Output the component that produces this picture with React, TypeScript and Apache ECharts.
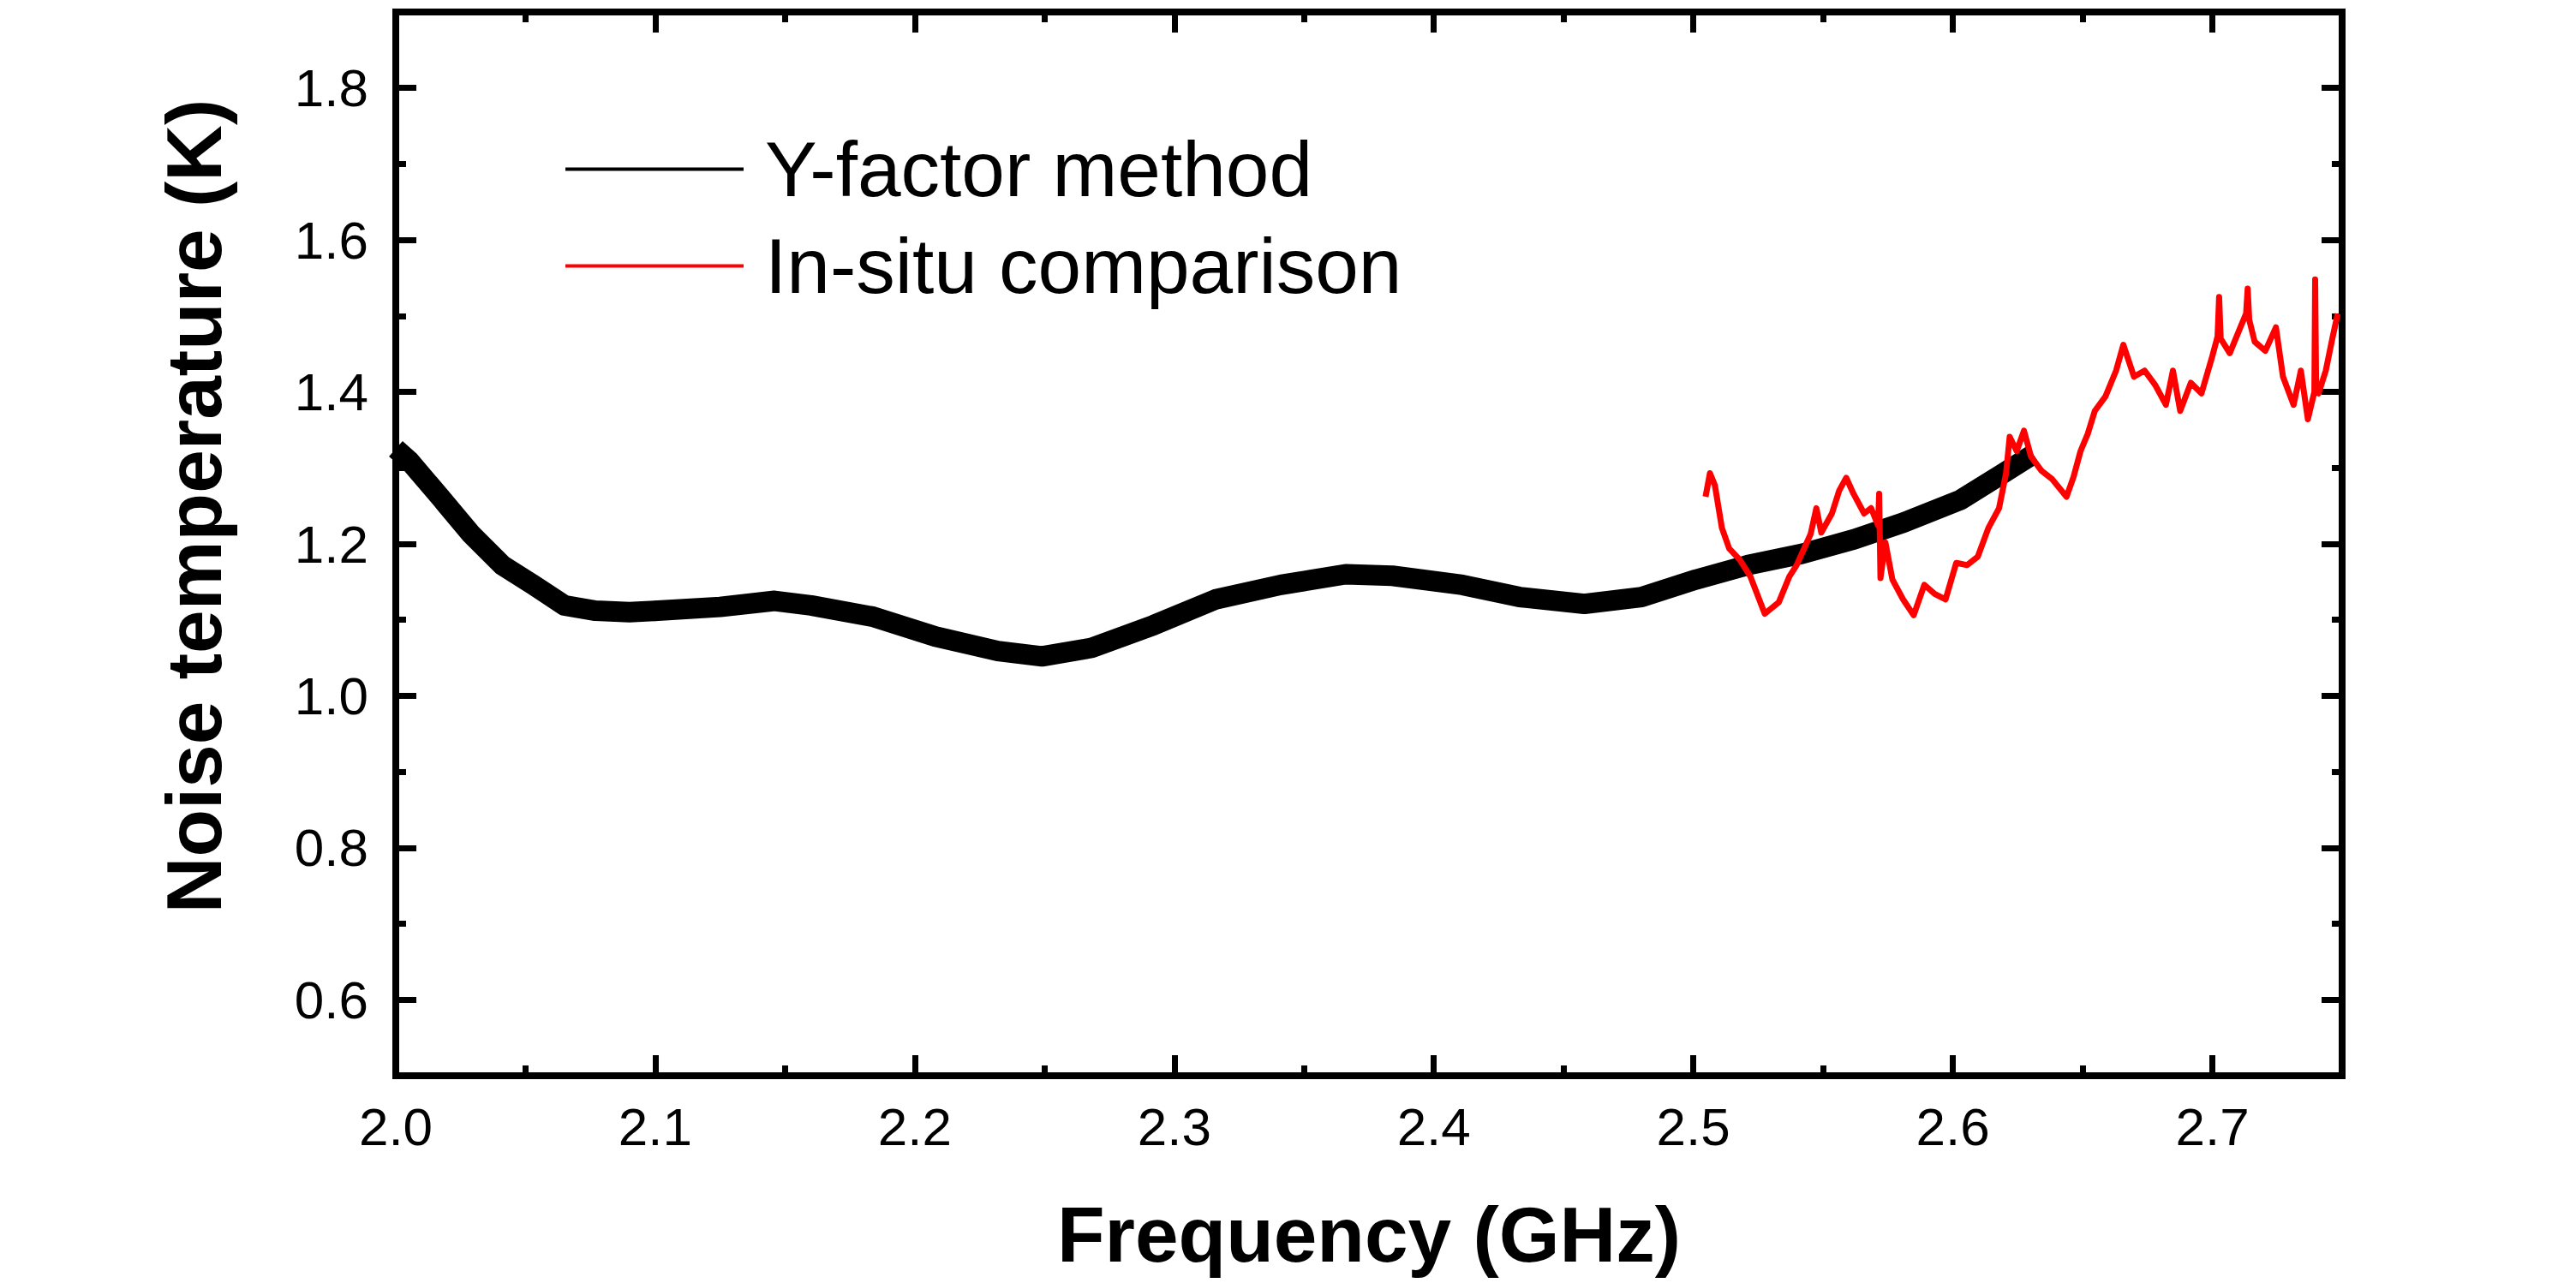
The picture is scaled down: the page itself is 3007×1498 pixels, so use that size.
import React, { useEffect, useRef } from "react";
import * as echarts from "echarts";

// ---- data ----
const seriesNames = ["Y-factor method", "In-situ comparison"];
const xTitle = "Frequency (GHz)";
const yTitle = "Noise temperature (K)";

const xMajorTicks = [2.0, 2.1, 2.2, 2.3, 2.4, 2.5, 2.6, 2.7];
const xMinorTicks = [2.05, 2.15, 2.25, 2.35, 2.45, 2.55, 2.65];
const yMajorTicks = [0.6, 0.8, 1.0, 1.2, 1.4, 1.6, 1.8];
const yMinorTicks = [0.7, 0.9, 1.1, 1.3, 1.5, 1.7];

const yFactorFreq = [
  2.0, 2.005, 2.017, 2.029, 2.041, 2.053, 2.065, 2.077, 2.09, 2.101, 2.125,
  2.146, 2.16, 2.184, 2.208, 2.232, 2.249, 2.268, 2.292, 2.316, 2.341, 2.366,
  2.384, 2.411, 2.433, 2.458, 2.48, 2.501, 2.521, 2.542, 2.562, 2.581, 2.603,
  2.619, 2.631,
];
const yFactorTemp = [
  1.325, 1.31, 1.262, 1.213, 1.172, 1.146, 1.119, 1.112, 1.11, 1.112, 1.117,
  1.125, 1.119, 1.104, 1.078, 1.059, 1.052, 1.063, 1.093, 1.127, 1.146, 1.16,
  1.158, 1.146, 1.13, 1.121, 1.13, 1.153, 1.172, 1.187, 1.206, 1.228, 1.258,
  1.292, 1.318,
];

const inSituFreq = [
  2.5047, 2.5064, 2.5083, 2.511, 2.5138, 2.5179, 2.522, 2.5275, 2.5329, 2.537,
  2.5398, 2.5452, 2.5474, 2.5493, 2.5534, 2.5562, 2.5589, 2.5617, 2.5658,
  2.5685, 2.5712, 2.5716, 2.5721, 2.574, 2.5767, 2.5808, 2.5849, 2.589, 2.5931,
  2.5972, 2.6013, 2.6055, 2.6096, 2.6137, 2.6178, 2.6205, 2.6219, 2.6246,
  2.6274, 2.6301, 2.6342, 2.6383, 2.6438, 2.6465, 2.6492, 2.652, 2.6547,
  2.6588, 2.6629, 2.6657, 2.6698, 2.6739, 2.678, 2.6821, 2.6848, 2.6876,
  2.6917, 2.6958, 2.6999, 2.702, 2.7026, 2.7032, 2.7067, 2.7108, 2.713, 2.7136,
  2.7142, 2.7163, 2.7204, 2.7245, 2.7272, 2.7313, 2.7341, 2.7368, 2.7393,
  2.7396, 2.74, 2.7409, 2.7437, 2.7464, 2.7483,
];
const inSituTemp = [
  1.262, 1.293, 1.277, 1.221, 1.194, 1.179, 1.157, 1.108, 1.123, 1.157, 1.172,
  1.213, 1.247, 1.215, 1.24, 1.27, 1.287, 1.266, 1.24, 1.247, 1.224, 1.266,
  1.155, 1.202, 1.153, 1.127, 1.106, 1.146, 1.134, 1.127, 1.175, 1.172, 1.183,
  1.221, 1.247, 1.293, 1.341, 1.322, 1.349, 1.315, 1.296, 1.285, 1.262, 1.288,
  1.322, 1.345, 1.375, 1.394, 1.428, 1.462, 1.42, 1.428, 1.409, 1.383, 1.428,
  1.375, 1.412, 1.398, 1.446, 1.473, 1.525, 1.47, 1.451, 1.485, 1.503, 1.536,
  1.495, 1.466, 1.454, 1.485, 1.42, 1.383, 1.428, 1.364, 1.4, 1.548, 1.4,
  1.398, 1.428, 1.473, 1.503,
];

const FONT = '"Liberation Sans", Arial, Helvetica, sans-serif';

export default function App() {
  const ref = useRef<HTMLDivElement>(null);

  useEffect(() => {
    document.body.style.margin = "0";
    document.body.style.overflow = "hidden";
    const chart = echarts.init(ref.current as HTMLDivElement, null, {
      renderer: "svg",
    });

    const axisLineStyle = { color: "#000", width: 8, cap: "square" };
    const tickStyle = { color: "#000", width: 7 };
    const xBase = {
      type: "value",
      min: 2.0,
      max: 2.75,
      splitLine: { show: false },
    };
    const yBase = {
      type: "value",
      min: 0.5,
      max: 1.9,
      splitLine: { show: false },
    };

    const option: any = {
      animation: false,
      backgroundColor: "#fff",
      grid: { left: 462, right: 273, top: 14, bottom: 242, containLabel: false },
      legend: {
        show: true,
        orient: "vertical",
        left: 655,
        top: 147,
        icon: "rect",
        itemWidth: 208,
        itemHeight: 4,
        itemGap: 22,
        selectedMode: false,
        data: seriesNames,
        textStyle: {
          fontSize: 91,
          lineHeight: 91,
          fontFamily: FONT,
          color: "#000",
          padding: [0, 0, 0, 20],
        },
      },
      xAxis: [
        {
          ...xBase,
          position: "bottom",
          axisLine: { show: true, onZero: false, lineStyle: axisLineStyle },
          axisTick: {
            show: true,
            inside: true,
            length: 24,
            lineStyle: tickStyle,
            customValues: xMajorTicks,
          },
          axisLabel: {
            show: true,
            customValues: xMajorTicks,
            formatter: (v: number) => v.toFixed(1),
            fontSize: 62,
            fontFamily: FONT,
            color: "#000",
            margin: 28,
          },
          name: xTitle,
          nameLocation: "middle",
          nameGap: 140,
          nameTextStyle: {
            fontSize: 91,
            fontWeight: "bold",
            fontFamily: FONT,
            color: "#000",
          },
        },
        {
          ...xBase,
          position: "bottom",
          axisLine: { show: false },
          axisTick: {
            show: true,
            inside: true,
            length: 12,
            lineStyle: tickStyle,
            customValues: xMinorTicks,
          },
          axisLabel: { show: false },
        },
        {
          ...xBase,
          position: "top",
          axisLine: { show: true, onZero: false, lineStyle: axisLineStyle },
          axisTick: {
            show: true,
            inside: true,
            length: 24,
            lineStyle: tickStyle,
            customValues: xMajorTicks,
          },
          axisLabel: { show: false },
        },
        {
          ...xBase,
          position: "top",
          axisLine: { show: false },
          axisTick: {
            show: true,
            inside: true,
            length: 12,
            lineStyle: tickStyle,
            customValues: xMinorTicks,
          },
          axisLabel: { show: false },
        },
      ],
      yAxis: [
        {
          ...yBase,
          position: "left",
          axisLine: { show: true, onZero: false, lineStyle: axisLineStyle },
          axisTick: {
            show: true,
            inside: true,
            length: 24,
            lineStyle: tickStyle,
            customValues: yMajorTicks,
          },
          axisLabel: {
            show: true,
            customValues: yMajorTicks,
            formatter: (v: number) => v.toFixed(1),
            fontSize: 62,
            fontFamily: FONT,
            color: "#000",
            margin: 32,
          },
          name: yTitle,
          nameLocation: "middle",
          nameGap: 190,
          nameRotate: 90,
          nameTextStyle: {
            fontSize: 91,
            fontWeight: "bold",
            fontFamily: FONT,
            color: "#000",
            padding: [0, 0, 0, 88],
          },
        },
        {
          ...yBase,
          position: "left",
          axisLine: { show: false },
          axisTick: {
            show: true,
            inside: true,
            length: 12,
            lineStyle: tickStyle,
            customValues: yMinorTicks,
          },
          axisLabel: { show: false },
        },
        {
          ...yBase,
          position: "right",
          axisLine: { show: true, onZero: false, lineStyle: axisLineStyle },
          axisTick: {
            show: true,
            inside: true,
            length: 24,
            lineStyle: tickStyle,
            customValues: yMajorTicks,
          },
          axisLabel: { show: false },
        },
        {
          ...yBase,
          position: "right",
          axisLine: { show: false },
          axisTick: {
            show: true,
            inside: true,
            length: 12,
            lineStyle: tickStyle,
            customValues: yMinorTicks,
          },
          axisLabel: { show: false },
        },
      ],
      series: [
        {
          type: "line",
          name: seriesNames[0],
          xAxisIndex: 0,
          yAxisIndex: 0,
          data: yFactorFreq.map((f, i) => [f, yFactorTemp[i]]),
          symbol: "none",
          color: "#000",
          lineStyle: { color: "#000", width: 24, join: "round" },
          z: 2,
        },
        {
          type: "line",
          name: seriesNames[1],
          xAxisIndex: 0,
          yAxisIndex: 0,
          data: inSituFreq.map((f, i) => [f, inSituTemp[i]]),
          symbol: "none",
          color: "#ff0000",
          lineStyle: { color: "#ff0000", width: 7, join: "round" },
          z: 3,
        },
      ],
    };

    chart.setOption(option);
    return () => {
      chart.dispose();
    };
  }, []);

  return <div ref={ref} style={{ width: 3007, height: 1498 }} />;
}
